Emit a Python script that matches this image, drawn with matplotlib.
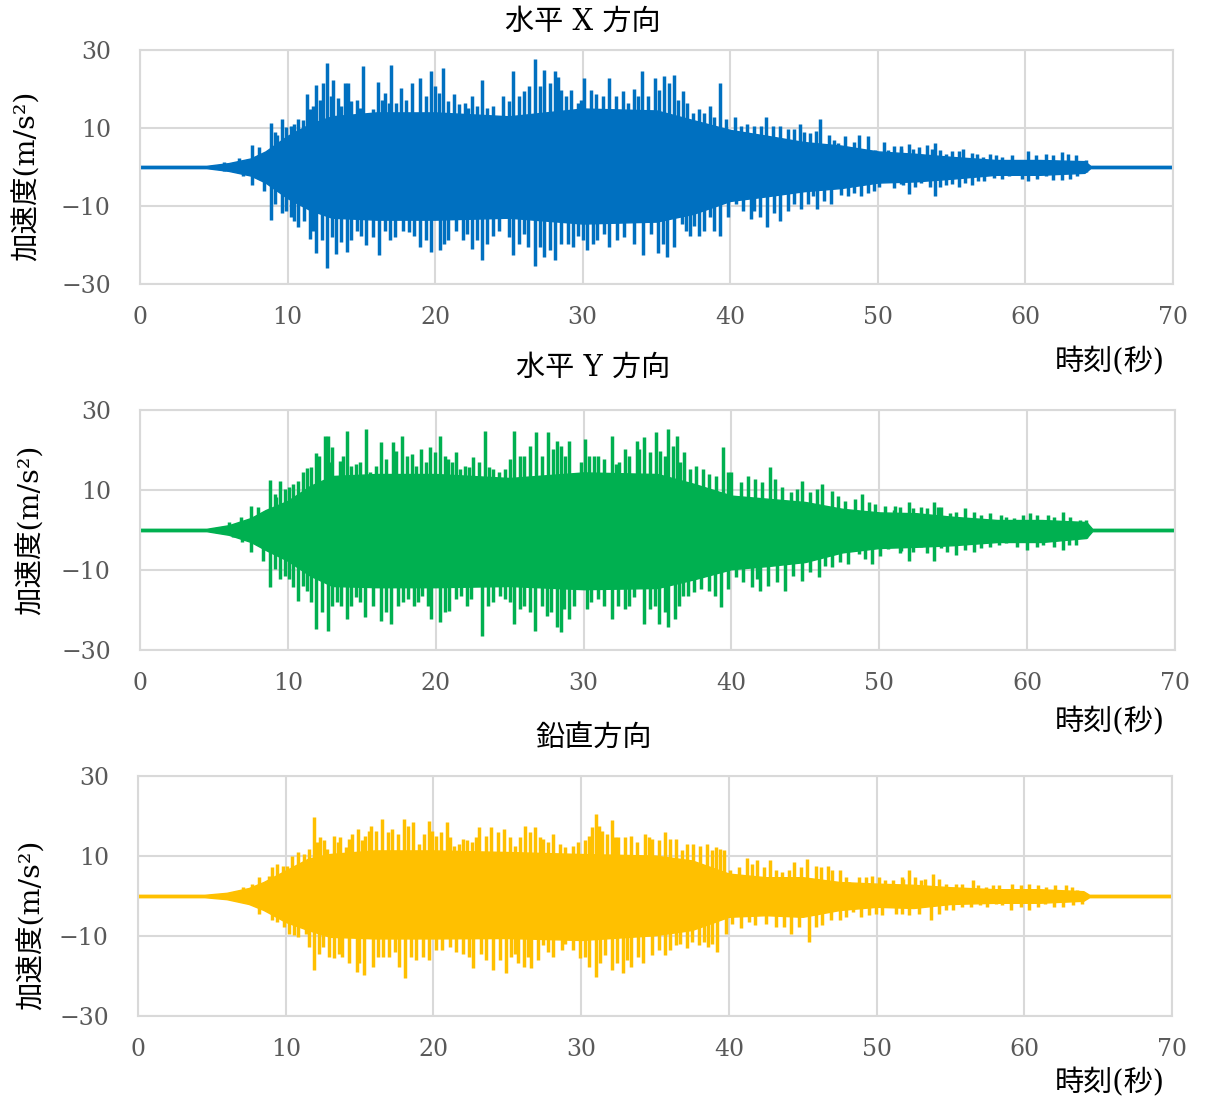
import matplotlib
matplotlib.use("Agg")
import matplotlib.pyplot as plt

plt.rcParams["font.family"] = ["DejaVu Serif", "Noto Sans CJK JP"]

# ---- data (acceleration m/s2 vs time s) ----
# dense centre of the record (envelope of the solid band)
core_t = [0, 4.5, 6, 7.5, 8.5, 10, 11.5, 13, 16, 20, 25, 30, 35, 37.5, 40,
          42.5, 45, 47.5, 50, 52.5, 55, 58, 61, 64, 64.4, 70]

x_core_up = [0.3, 0.3, 1.0, 2.2, 4, 8, 11, 13, 14, 14, 13, 15, 14.5, 12, 9.5,
             8, 6.4, 5.5, 4, 3.4, 2.6, 1.8, 1.8, 1.5, 0.3, 0.3]
x_core_lo = [-0.3, -0.3, -1.0, -2.2, -4, -8, -11, -13, -13.5, -13.5, -13, -14.5,
             -14, -12, -8.7, -7.5, -6.2, -5.4, -4, -3.7, -3, -2, -2, -1.5, -0.3, -0.3]
y_core_up = [0.3, 0.3, 1.2, 3, 5, 7.3, 11, 13.5, 14, 14, 13, 14.4, 14, 11.5, 8.6,
             7.8, 7, 5.3, 4.4, 4.2, 3.3, 2.5, 2.5, 2, 0.3, 0.3]
y_core_lo = [-0.3, -0.3, -1.2, -3, -5, -7.7, -11.4, -14, -14.3, -14.3, -14, -14.8,
             -14.5, -12.3, -9.8, -9, -8, -5.6, -4.5, -4.2, -3.8, -3, -3, -2, -0.3, -0.3]
z_core_up = [0.3, 0.3, 0.8, 2, 3.5, 6.4, 9.3, 10.5, 11.4, 11.4, 11, 10.5, 10.1, 8.9,
             5.6, 4.7, 4.7, 3.5, 3.1, 2.8, 2.2, 1.7, 1.7, 1.2, 0.3, 0.3]
z_core_lo = [-0.3, -0.3, -0.8, -2, -3.5, -6.5, -8.5, -10.2, -10.6, -10.6, -10.5, -11,
             -9.8, -8.5, -5.2, -4.8, -5.2, -3.5, -2.7, -3, -2, -1.7, -1.7, -1.2, -0.3, -0.3]

# ---- horizontal X: main peaks ----
x_up_t = [5.7, 6.7, 7.6, 8.05, 8.9, 9.3, 9.6, 10.2, 10.7, 11.3,
          11.5, 11.9, 12.4, 12.7, 13.1, 13.4, 13.9, 14.1, 14.7, 15.1,
          15.8, 16.1, 16.6, 17.0, 17.7, 18.4, 19.0, 19.7, 20.0, 20.5,
          21.3, 22.0, 22.5, 23.2, 23.9, 24.6, 25.3, 26.0, 26.8, 27.4,
          28.1, 28.3, 28.5, 29.2, 29.7, 30.1, 30.9, 31.8, 32.7, 33.5,
          34.0, 34.9, 35.5, 36.2, 36.8, 37.1, 37.9, 38.6, 39.3, 40.3,
          41.1, 41.6, 42.4, 43.4, 43.9, 44.7, 45.4, 46.1, 46.7, 47.3,
          47.8, 48.7, 49.3, 49.8, 50.4, 50.7, 51.6, 52.1, 52.8, 53.3,
          53.9, 54.6, 55.0, 55.8, 56.4, 57.1, 57.6, 58.4, 59.1, 60.2,
          61.4, 62.5, 63.4, 64.1]
x_up_v = [1.2, 2.4, 5.7, 5.1, 11.4, 8.1, 12.4, 10.6, 12.4, 18.6,
          14.8, 21.1, 21.5, 26.7, 22.4, 17.7, 21.5, 21.5, 17.3, 25.9,
          14.8, 21.7, 19.0, 26.1, 20.3, 21.5, 22.8, 24.6, 20.7, 25.3,
          18.6, 16.5, 18.2, 22.4, 15.6, 18.2, 24.5, 19.4, 27.6, 24.9,
          24.5, 23.2, 19.8, 19.8, 16.5, 22.8, 18.6, 22.8, 19.4, 20.0,
          24.5, 22.8, 23.4, 23.6, 19.4, 16.5, 14.8, 15.6, 21.5, 12.7,
          11.0, 10.6, 12.9, 10.6, 9.7, 11.0, 8.7, 12.3, 8.2, 6.2,
          7.9, 8.2, 7.9, 4.3, 6.4, 4.3, 5.5, 6.0, 5.1, 5.7,
          6.1, 3.4, 4.0, 4.7, 3.7, 2.6, 3.4, 2.6, 3.0, 4.0,
          3.4, 3.9, 3.0, 1.8]
x_lo_t = [5.7, 7.0, 7.6, 8.4, 8.9, 9.6, 10.2, 10.7, 11.5, 11.9,
          12.7, 13.3, 14.0, 14.7, 15.3, 16.2, 16.6, 17.3, 18.2, 19.0,
          19.7, 20.3, 20.9, 21.9, 22.5, 23.2, 23.9, 24.6, 25.3, 26.0,
          26.8, 27.4, 28.1, 29.0, 29.7, 30.3, 31.0, 31.8, 32.8, 34.1,
          35.1, 35.7, 36.2, 36.7, 37.3, 37.9, 38.6, 39.3, 40.4, 41.4,
          42.0, 42.5, 43.4, 43.9, 44.8, 45.6, 45.9, 46.8, 47.5, 48.4,
          49.3, 50.1, 51.1, 51.7, 52.1, 52.9, 53.9, 54.6, 55.5, 56.4,
          57.2, 57.9, 58.9, 60.2, 61.4, 62.5, 63.5, 64.1]
x_lo_v = [-1.0, -2.4, -4.5, -6.2, -13.5, -11.8, -12.9, -15.5, -18.4, -22.0,
          -26.0, -22.2, -21.8, -16.3, -20.1, -22.6, -16.3, -18.0, -16.7, -20.5,
          -21.8, -21.3, -18.8, -18.8, -20.9, -23.9, -17.6, -12.9, -22.6, -17.1,
          -25.4, -23.0, -23.9, -19.7, -17.6, -21.3, -18.8, -20.5, -18.0, -22.6,
          -22.0, -23.0, -20.5, -14.6, -17.6, -17.6, -12.9, -17.6, -9.6, -13.4,
          -12.9, -15.5, -13.8, -11.3, -10.8, -7.5, -10.8, -9.6, -7.1, -6.6,
          -6.6, -5.0, -5.4, -4.5, -6.9, -4.1, -7.5, -4.5, -5.0, -4.5,
          -3.7, -2.9, -2.4, -3.7, -2.4, -3.3, -2.4, -1.2]
# ---- horizontal X: smaller peaks in between ----
xm_up_t = [9.17, 9.91, 10.45, 11.03, 11.7, 12.2, 12.91, 13.65, 14.33, 14.89,
           15.52, 16.41, 16.86, 17.35, 18.03, 18.7, 19.37, 20.27, 20.9, 21.61,
           22.24, 22.85, 23.52, 24.26, 24.98, 25.65, 26.37, 27.11, 27.78, 28.87,
           29.89, 30.56, 31.35, 32.26, 33.09, 33.72, 34.4, 35.19, 35.87, 36.43,
           37.45, 38.24, 38.92, 39.71, 40.72, 42.08, 42.87, 44.33, 45.01, 45.8,
           47.04, 48.4, 51.1, 51.6, 52.4, 53.7, 54.2, 55.5, 56.7, 58.0,
           60.7, 61.9, 62.9]
xm_up_v = [8.9, 10.2, 11.0, 12.1, 15.6, 17.3, 18.2, 15.6, 16.9, 15.2,
           13.9, 17.3, 16.5, 16.5, 17.3, 13.5, 18.2, 19.0, 16.9, 16.1,
           15.2, 15.6, 15.2, 12.7, 16.9, 18.2, 20.7, 20.7, 21.5, 18.2,
           17.3, 19.8, 18.2, 18.2, 16.5, 18.2, 18.2, 19.8, 21.5, 17.3,
           13.9, 13.9, 12.7, 12.3, 10.6, 10.6, 10.6, 9.7, 8.9, 9.3,
           6.8, 6.4, 5.5, 4.7, 4.5, 4.7, 4.3, 4.0, 3.4, 3.0,
           3.0, 3.0, 3.4]
xm_lo_t = [9.17, 9.91, 10.45, 11.08, 11.7, 12.31, 12.98, 13.65, 14.33, 15.0,
           15.78, 16.91, 17.8, 18.59, 19.37, 20.61, 21.39, 22.17, 22.85, 23.52,
           24.3, 24.98, 25.65, 26.32, 27.11, 27.78, 28.53, 29.32, 30.0, 30.68,
           31.42, 32.33, 33.5, 34.63, 35.42, 37.0, 37.56, 38.24, 38.92, 39.82,
           40.84, 41.63, 42.98, 44.33, 45.24, 46.37, 47.95, 48.85, 49.75, 51.6,
           52.5, 53.5, 54.2, 55.0, 55.9, 56.8, 58.4, 59.8, 60.8, 61.9, 63.0]
xm_lo_v = [-9.6, -11.3, -13.8, -13.8, -16.3, -18.8, -18.0, -19.2, -18.8, -17.6,
           -18.0, -18.8, -16.3, -17.6, -18.8, -19.7, -16.3, -17.1, -18.8, -19.7,
           -16.3, -18.0, -19.7, -20.5, -20.5, -21.3, -19.7, -20.5, -18.8, -19.7,
           -17.1, -18.8, -19.7, -17.1, -19.7, -16.3, -15.0, -16.3, -16.3, -12.9,
           -11.3, -11.3, -11.7, -9.6, -9.6, -8.7, -7.5, -7.5, -6.2, -4.3,
           -5.0, -5.0, -5.0, -4.3, -4.1, -3.5, -3.0, -3.0, -3.0, -3.3, -3.0]

# ---- horizontal Y: main peaks ----
y_up_t = [6.05, 6.8, 7.5, 8.0, 8.8, 9.2, 9.5, 10.1, 10.7, 11.3,
          11.9, 12.5, 12.7, 13.0, 13.5, 14.0, 14.6, 15.3, 15.8, 16.3,
          17.1, 17.3, 17.7, 18.4, 19.0, 19.6, 20.3, 20.8, 21.4, 22.0,
          22.5, 23.3, 23.9, 24.7, 25.3, 26.0, 26.8, 27.6, 28.2, 28.5,
          29.0, 29.5, 30.1, 30.4, 31.0, 31.9, 32.2, 32.8, 33.6, 34.1,
          34.9, 35.2, 35.7, 36.3, 36.8, 37.6, 38.5, 39.4, 40.0, 41.1,
          41.6, 42.6, 43.4, 44.0, 44.8, 45.3, 46.1, 46.8, 47.7, 48.8,
          49.7, 50.4, 51.0, 52.0, 52.8, 53.7, 54.2, 54.8, 55.8, 56.4,
          57.5, 58.2, 59.1, 60.2, 61.4, 62.4, 63.6, 64.0]
y_up_v = [1.9, 3.2, 6.1, 5.7, 12.6, 8.2, 12.3, 10.7, 12.3, 15.4,
          19.3, 23.6, 23.6, 20.7, 17.3, 24.8, 16.5, 25.3, 14.0, 22.1,
          22.1, 19.8, 23.6, 19.0, 20.3, 20.7, 23.6, 17.8, 19.4, 16.1,
          18.2, 24.8, 15.3, 15.3, 24.8, 18.6, 24.4, 24.4, 22.3, 21.1,
          22.3, 14.0, 22.8, 18.6, 18.6, 23.6, 16.5, 20.3, 22.3, 23.2,
          24.4, 19.8, 25.3, 23.6, 19.4, 16.1, 14.0, 20.7, 14.4, 13.6,
          12.8, 15.7, 10.7, 9.4, 12.3, 9.4, 11.5, 9.8, 7.3, 9.0,
          6.5, 6.1, 5.0, 7.1, 5.8, 7.1, 5.8, 4.2, 5.4, 4.6,
          4.2, 3.8, 2.9, 4.2, 3.8, 4.6, 2.5, 2.5]
y_lo_t = [6.3, 6.9, 7.5, 8.3, 8.8, 9.5, 10.1, 10.7, 11.3, 11.9,
          12.7, 13.3, 14.0, 14.6, 15.2, 16.3, 17.0, 17.8, 18.5, 19.1,
          19.7, 20.3, 20.9, 21.4, 22.1, 23.1, 23.9, 24.7, 25.3, 26.0,
          26.7, 27.5, 28.2, 28.5, 29.0, 29.6, 30.2, 31.0, 31.9, 32.8,
          33.4, 34.1, 34.8, 35.1, 35.7, 36.2, 36.7, 37.5, 38.5, 39.3,
          40.3, 41.4, 41.9, 42.5, 43.6, 44.8, 45.9, 46.8, 47.9, 48.6,
          49.5, 50.6, 51.5, 52.0, 52.8, 53.7, 54.2, 55.2, 56.4, 57.5,
          58.6, 60.0, 61.1, 62.4, 63.3, 64.0]
y_lo_v = [-1.8, -3.1, -5.6, -7.7, -14.3, -12.3, -12.3, -17.7, -15.2, -24.8,
          -25.2, -18.1, -22.3, -16.8, -21.8, -22.7, -23.5, -18.1, -18.9, -16.4,
          -22.3, -23.1, -20.2, -17.3, -18.9, -26.4, -18.1, -17.3, -23.5, -18.9,
          -25.2, -21.4, -24.3, -25.6, -22.3, -14.3, -19.8, -17.3, -22.3, -19.8,
          -16.8, -23.5, -18.9, -23.5, -24.3, -22.3, -16.4, -15.6, -15.2, -19.3,
          -11.8, -14.3, -15.2, -13.9, -15.2, -12.7, -11.8, -9.3, -8.5, -6.0,
          -8.5, -4.8, -5.2, -7.8, -4.2, -7.8, -4.6, -6.3, -5.4, -4.2,
          -3.3, -5.0, -3.8, -5.0, -3.8, -2.1]
# ---- horizontal Y: smaller peaks ----
ym_up_t = [9.1, 9.84, 10.38, 11.02, 11.58, 12.14, 12.87, 13.72, 14.29, 14.9,
           15.53, 15.98, 16.61, 18.06, 18.69, 19.32, 19.93, 20.61, 21.13, 21.67,
           22.26, 22.93, 23.61, 24.29, 25.01, 25.69, 26.41, 27.16, 27.9, 28.73,
           29.82, 30.68, 31.4, 32.42, 33.1, 33.78, 34.46, 35.48, 36.04, 36.49,
           37.17, 38.08, 38.98, 39.77, 40.68, 42.04, 42.94, 44.41, 45.77, 47.24,
           48.37, 49.28, 51.09, 51.4, 52.3, 53.2, 54.0, 55.2, 56.9, 58.6,
           59.7, 60.7, 61.8, 62.9]
ym_up_v = [9.0, 10.3, 11.5, 14.4, 15.7, 18.6, 16.9, 18.6, 16.1, 16.9,
           14.4, 16.1, 17.8, 18.6, 16.1, 16.9, 19.4, 18.6, 16.9, 15.3,
           15.7, 16.9, 15.7, 14.4, 17.8, 18.6, 21.1, 18.6, 20.3, 18.6,
           16.9, 18.6, 17.8, 16.9, 18.6, 20.3, 19.4, 18.6, 21.1, 16.9,
           15.3, 15.3, 13.6, 14.4, 11.9, 11.9, 12.8, 10.3, 10.3, 8.6,
           7.8, 6.9, 6.1, 5.8, 5.4, 5.4, 5.8, 4.6, 3.8, 3.3,
           3.8, 3.8, 3.3, 3.3]
ym_lo_t = [9.1, 9.84, 10.38, 11.02, 11.58, 12.33, 13.0, 13.61, 14.29, 14.9,
           15.76, 16.61, 17.45, 18.13, 18.8, 19.48, 20.61, 21.74, 22.42, 23.54,
           24.33, 25.01, 25.69, 26.37, 27.16, 27.83, 28.69, 29.32, 30.5, 31.4,
           32.31, 33.1, 34.46, 35.48, 36.43, 37.06, 37.96, 38.87, 39.77, 40.79,
           41.7, 43.05, 44.19, 45.32, 46.33, 47.35, 49.05, 50.07, 51.4, 52.3,
           53.2, 54.6, 55.8, 56.9, 58.1, 59.3, 60.7, 61.8, 62.8]
ym_lo_v = [-9.8, -11.4, -14.3, -13.9, -18.1, -20.6, -18.9, -18.9, -18.9, -18.1,
           -18.9, -20.6, -18.9, -17.3, -18.1, -18.9, -20.6, -16.4, -17.3, -18.9,
           -16.4, -18.1, -19.8, -20.6, -18.9, -20.6, -19.8, -18.9, -18.1, -18.9,
           -18.9, -18.9, -19.8, -20.6, -18.9, -16.4, -14.8, -16.4, -14.8, -13.1,
           -12.3, -13.1, -11.4, -10.6, -8.9, -8.1, -7.3, -6.4, -5.8, -5.4,
           -5.8, -5.4, -5.0, -4.6, -3.8, -4.2, -4.2, -4.2, -3.8]

# ---- vertical: main peaks ----
z_up_t = [7.1, 7.7, 8.2, 8.9, 9.4, 10.1, 10.8, 11.6, 11.9, 12.3,
          12.8, 13.3, 13.7, 14.1, 14.5, 14.9, 15.4, 15.8, 16.5, 17.2,
          18.0, 18.6, 19.0, 19.7, 20.2, 20.9, 21.4, 22.0, 22.6, 23.1,
          23.9, 24.8, 25.5, 26.2, 26.9, 27.4, 28.1, 28.9, 29.8, 30.5,
          31.0, 31.4, 32.1, 32.5, 33.4, 34.3, 34.8, 35.7, 36.4, 36.8,
          37.6, 38.5, 39.1, 39.7, 40.1, 41.2, 41.9, 42.8, 43.6, 44.4,
          45.3, 45.9, 46.7, 47.5, 48.1, 48.8, 49.7, 50.6, 51.8, 52.2,
          53.0, 53.8, 54.7, 55.4, 56.5, 57.4, 58.3, 59.2, 60.3, 61.5, 62.8, 63.6]
z_up_v = [2.2, 3.1, 4.7, 5.1, 8.0, 7.6, 11.0, 11.8, 19.7, 14.7,
          11.8, 15.1, 14.7, 12.2, 15.5, 16.8, 15.1, 17.6, 19.3, 16.8,
          19.3, 18.4, 13.0, 18.8, 15.1, 18.4, 12.6, 14.3, 13.4, 17.2,
          17.2, 16.8, 12.6, 17.6, 17.2, 14.3, 15.5, 12.2, 13.4, 15.1,
          20.5, 16.3, 19.0, 14.7, 15.1, 15.5, 14.3, 15.9, 14.3, 11.4,
          13.0, 13.0, 12.2, 11.4, 6.4, 9.5, 8.9, 8.9, 6.0, 8.5,
          9.3, 7.6, 7.6, 6.4, 3.5, 4.7, 5.1, 3.9, 4.3, 6.6,
          3.9, 5.6, 3.1, 3.1, 3.9, 2.2, 2.7, 3.1, 3.1, 2.2, 2.7, 1.4]
z_lo_t = [7.5, 8.2, 9.4, 10.2, 10.8, 11.4, 11.9, 12.5, 13.3, 13.8,
          14.8, 15.3, 15.9, 16.6, 17.4, 18.1, 18.8, 19.7, 20.6, 21.5,
          22.7, 23.2, 24.0, 24.9, 25.5, 26.1, 26.6, 27.4, 28.1, 28.9,
          29.9, 30.5, 31.0, 31.6, 32.1, 32.8, 33.4, 34.2, 34.8, 35.7,
          36.4, 37.2, 38.0, 38.6, 39.2, 39.8, 40.8, 41.8, 43.2, 44.2,
          45.4, 46.3, 47.5, 48.4, 49.5, 50.4, 51.3, 52.2, 53.7, 54.7,
          55.8, 57.0, 58.1, 59.1, 60.3, 61.4, 62.6, 63.9]
z_lo_v = [-1.5, -4.4, -6.5, -9.4, -10.2, -9.4, -18.5, -12.7, -15.6, -15.2,
          -18.9, -19.8, -17.7, -15.2, -13.9, -20.6, -16.0, -16.0, -13.5, -13.9,
          -18.1, -14.4, -18.5, -19.3, -14.4, -17.7, -18.1, -12.3, -15.2, -11.9,
          -15.6, -17.7, -20.2, -14.8, -18.5, -19.3, -17.7, -16.8, -14.8, -14.8,
          -12.3, -13.1, -12.3, -12.7, -13.9, -9.4, -8.1, -7.3, -7.7, -9.4,
          -11.5, -7.3, -6.1, -4.0, -4.8, -4.8, -4.4, -4.8, -5.9, -3.6,
          -2.7, -2.3, -1.9, -3.6, -3.6, -1.9, -2.7, -1.9]
# ---- vertical: smaller peaks ----
zm_up_t = [9.1, 9.82, 10.45, 11.24, 12.15, 12.6, 13.51, 14.3, 15.16, 15.61,
           16.11, 16.9, 17.58, 18.26, 19.39, 19.91, 20.52, 21.13, 21.72, 22.26,
           22.9, 23.53, 24.37, 25.16, 25.84, 26.52, 27.19, 27.76, 28.57, 29.48,
           30.23, 30.72, 31.18, 31.74, 32.31, 32.99, 33.78, 34.57, 35.25, 36.04,
           37.17, 38.08, 38.87, 39.43, 40.68, 41.58, 42.38, 43.17, 44.07, 44.86,
           46.22, 47.01, 47.92, 49.28, 50.18, 51.09, 51.7, 52.6, 53.3, 54.2,
           55.8, 56.9, 57.9, 59.8, 60.9, 62.1, 63.2]
zm_up_v = [7.2, 7.6, 10.1, 10.5, 13.4, 13.9, 13.4, 14.3, 13.9, 16.3,
           16.3, 15.9, 15.5, 17.6, 15.5, 16.3, 15.9, 14.7, 13.0, 13.9,
           14.7, 15.1, 15.9, 14.7, 14.7, 15.9, 14.7, 13.4, 13.0, 12.6,
           13.9, 17.2, 17.6, 15.5, 14.7, 14.7, 13.4, 14.7, 13.9, 14.3,
           13.0, 12.6, 11.4, 11.8, 7.2, 8.0, 7.2, 6.4, 6.4, 7.2,
           7.2, 6.4, 4.7, 4.7, 4.7, 3.9, 4.7, 4.7, 4.3, 4.3,
           3.1, 2.7, 2.7, 2.7, 2.7, 2.7, 2.2]
zm_lo_t = [9.1, 9.89, 10.57, 11.58, 12.22, 12.9, 13.62, 14.3, 14.98, 16.22,
           16.97, 17.69, 18.48, 19.28, 20.18, 21.09, 21.99, 22.44, 23.57, 24.48,
           25.27, 25.72, 26.4, 27.08, 27.76, 28.69, 29.48, 30.27, 31.29, 32.42,
           33.1, 33.85, 35.25, 36.04, 36.72, 37.51, 38.3, 38.87, 40.23, 41.36,
           42.49, 43.73, 44.75, 45.88, 46.9, 47.92, 48.94, 49.95, 51.7, 52.9,
           54.2, 55.2, 56.4, 57.5, 58.5, 59.8, 60.9, 62.0, 63.3]
zm_lo_v = [-6.1, -7.7, -9.8, -12.7, -14.4, -15.2, -14.4, -16.8, -16.8, -15.2,
           -15.2, -17.7, -15.2, -15.2, -13.5, -12.7, -14.4, -15.2, -16.0, -16.0,
           -15.2, -16.8, -15.2, -16.0, -13.9, -13.5, -13.5, -15.2, -16.8, -16.8,
           -16.0, -15.2, -13.5, -13.5, -11.9, -11.5, -11.5, -11.9, -6.9, -6.5,
           -6.9, -7.7, -7.7, -7.7, -6.1, -5.2, -5.2, -4.4, -4.4, -4.4,
           -4.4, -3.6, -2.7, -2.7, -2.3, -2.7, -2.7, -2.7, -2.3]

titles = ["水平 X 方向", "水平 Y 方向", "鉛直方向"]
colors = ["#0070C0", "#00B050", "#FFC000"]
x_ticks = [0, 10, 20, 30, 40, 50, 60, 70]
y_ticks = [-30, -10, 10, 30]

panels = [
    (x_core_up, x_core_lo, [(x_up_t, x_up_v), (x_lo_t, x_lo_v),
                            (xm_up_t, xm_up_v), (xm_lo_t, xm_lo_v)]),
    (y_core_up, y_core_lo, [(y_up_t, y_up_v), (y_lo_t, y_lo_v),
                            (ym_up_t, ym_up_v), (ym_lo_t, ym_lo_v)]),
    (z_core_up, z_core_lo, [(z_up_t, z_up_v), (z_lo_t, z_lo_v),
                            (zm_up_t, zm_up_v), (zm_lo_t, zm_lo_v)]),
]

# ---- layout in pixels ----
W, H = 1206, 1099
boxes = [(140, 50, 1173, 284), (140, 410, 1175, 650), (138, 776, 1172, 1016)]
title_pos = [(583, 22), (593, 368), (594, 738)]
xlabel_pos = [(1165, 362), (1165, 722), (1165, 1083)]
ylabel_pos = [(27, 176), (31, 530), (32, 925)]
grid_col = "#d9d9d9"

fig = plt.figure(figsize=(W / 100, H / 100), dpi=100)

for i, (core_up, core_lo, spikes) in enumerate(panels):
    l, t, r, b = boxes[i]
    ax = fig.add_axes([l / W, 1 - b / H, (r - l) / W, (b - t) / H])
    c = colors[i]

    ax.fill_between(core_t, core_lo, core_up, color=c, lw=1.0, edgecolor=c)
    for st, sv in spikes:
        ax.vlines(st, 0, sv, color=c, lw=2.5)

    ax.set_xlim(0, 70)
    ax.set_ylim(-30, 30)
    ax.set_xticks(x_ticks)
    ax.set_yticks(y_ticks)
    ax.grid(color=grid_col, lw=1.5)
    ax.set_axisbelow(True)
    for s in ax.spines.values():
        s.set_color(grid_col)
        s.set_linewidth(1.5)
    ax.tick_params(length=0, labelsize=17, labelcolor="#595959")
    ax.tick_params(axis="y", pad=21)
    ax.tick_params(axis="x", pad=16)

    fig.text(title_pos[i][0] / W, 1 - title_pos[i][1] / H, titles[i],
             ha="center", va="center", fontsize=21)
    fig.text(xlabel_pos[i][0] / W, 1 - xlabel_pos[i][1] / H, "時刻(秒)",
             ha="right", va="center", fontsize=21)
    fig.text(ylabel_pos[i][0] / W, 1 - ylabel_pos[i][1] / H, "加速度(m/s²)",
             ha="center", va="center", rotation=90, fontsize=20.5)

fig.savefig("out.png", dpi=100)
